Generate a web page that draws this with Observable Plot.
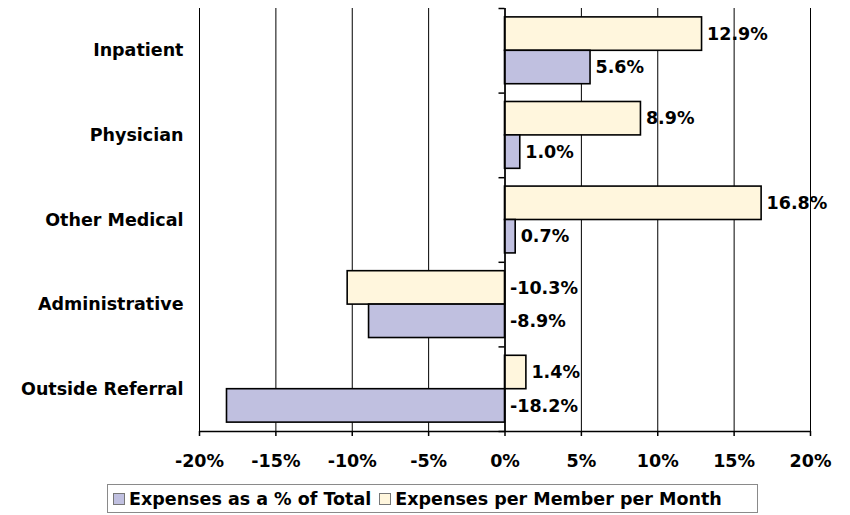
<!DOCTYPE html>
<html>
<head>
<meta charset="utf-8">
<script src="https://cdn.jsdelivr.net/npm/d3@7"></script>
<script src="https://cdn.jsdelivr.net/npm/@observablehq/plot@0.6"></script>
<style>
  body { margin: 0; background: #fff; font-family: "DejaVu Sans", Verdana, sans-serif; }
  #wrap { position: relative; width: 850px; height: 515px; }
  #legend { position: absolute; left: 107px; top: 484px; width: 649px; height: 27px;
    border: 1px solid #8a8a8a; display: flex; align-items: center; font-weight: bold; font-size: 17.5px; color: #000; white-space: nowrap; }
  .sw { display: inline-block; width: 10px; height: 10px; border: 1px solid #777; margin: 0 4px 0 5px; }
</style>
</head>
<body>
<div id="wrap">
  <div id="chart"></div>
  <div id="legend"></div>
</div>
<script>
const categories = ["Inpatient", "Physician", "Other Medical", "Administrative", "Outside Referral"];
const pctOfTotal = [5.6, 1.0, 0.7, -8.9, -18.2];        // Expenses as a % of Total
const perMemberMonth = [12.9, 8.9, 16.8, -10.3, 1.4];   // Expenses per Member per Month
const xTicks = [-20, -15, -10, -5, 0, 5, 10, 15, 20];
const seriesNames = ["Expenses as a % of Total", "Expenses per Member per Month"];
const colors = { "Expenses as a % of Total": "#c0c0e0", "Expenses per Member per Month": "#fff6dd" };

const rows = categories.flatMap((cat, i) => [
  { cat, i, series: seriesNames[1], value: perMemberMonth[i], slot: 0 },
  { cat, i, series: seriesNames[0], value: pctOfTotal[i], slot: 1 }
]);
const pad = 0.105, bh = 0.395;
const boundaries = d3.range(categories.length + 1);
const fs = 17.5;

const chart = Plot.plot({
  width: 850,
  height: 480,
  marginTop: 8,
  marginBottom: 49,
  marginLeft: 199,
  marginRight: 40,
  style: { fontFamily: "'DejaVu Sans', Verdana, sans-serif", fontSize: fs + "px", fontWeight: "bold", color: "#000" },
  x: { domain: [-20, 20] },
  y: { domain: [0, categories.length], reverse: true, axis: null },
  marks: [
    Plot.ruleX(xTicks, { stroke: "#000", strokeWidth: 1 }),
    Plot.rectX(rows, {
      x1: 0, x2: "value",
      y1: d => d.i + pad + d.slot * bh,
      y2: d => d.i + pad + (d.slot + 1) * bh,
      fill: d => colors[d.series],
      stroke: "#000", strokeWidth: 1.6
    }),
    Plot.ruleY(boundaries, { x1: 0, x2: 0, insetLeft: -6, stroke: "#000", strokeWidth: 1.5 }),
    Plot.ruleY([categories.length], { x1: -20, x2: 20, stroke: "#000", strokeWidth: 1.5 }),
    Plot.ruleX([0], { stroke: "#000", strokeWidth: 1.5 }),
    Plot.text(rows, {
      x: d => Math.max(0, d.value),
      y: d => d.i + pad + (d.slot + 0.5) * bh,
      text: d => d.value.toFixed(1) + "%",
      textAnchor: "start", dx: 5, fill: "#000", fontSize: fs, fontWeight: "bold"
    }),
    Plot.text(categories, {
      frameAnchor: "left",
      y: (d, i) => i + 0.5,
      text: d => d,
      textAnchor: "end", dx: -16, fill: "#000", fontSize: fs, fontWeight: "bold"
    }),
    Plot.axisX({
      ticks: xTicks, tickFormat: d => d + "%", tickSize: 5, tickPadding: 18,
      fontSize: fs, fontWeight: "bold", stroke: "#000", strokeWidth: 1.5, label: null
    })
  ]
});
document.getElementById("chart").appendChild(chart);

const legend = document.getElementById("legend");
seriesNames.forEach((name, k) => {
  const sw = document.createElement("span");
  sw.className = "sw";
  sw.style.background = colors[name];
  if (k > 0) sw.style.marginLeft = "8px";
  legend.appendChild(sw);
  const t = document.createElement("span");
  t.textContent = name;
  legend.appendChild(t);
});
</script>
</body>
</html>
